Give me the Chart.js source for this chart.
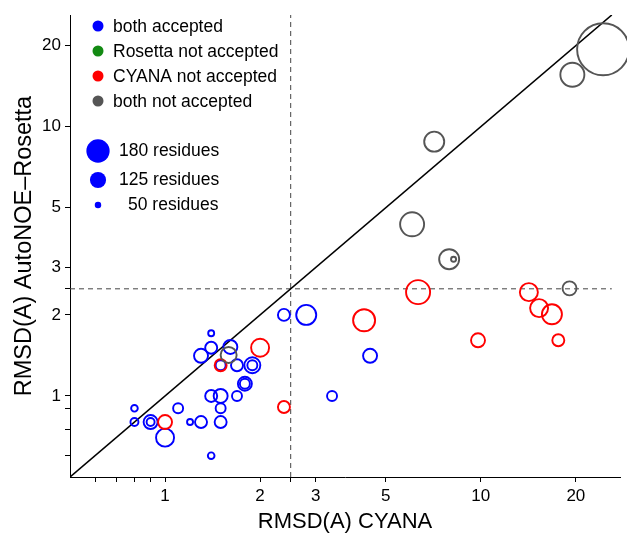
<!DOCTYPE html>
<html>
<head>
<meta charset="utf-8">
<script src="https://cdn.jsdelivr.net/npm/chart.js@4.4.1/dist/chart.umd.min.js"></script>
<style>
  html, body { margin: 0; padding: 0; background: #fff; }
  canvas { display: block; }
</style>
</head>
<body>
<canvas id="rmsdChart" width="627" height="535"></canvas>
<script>
// RMSD of CYANA vs AutoNOE-Rosetta structures, one entry per protein
const rmsdCyana = [
  1.40, 1.30, 1.40, 1.61, 1.50, 1.69, 1.89, 1.89, 1.79, 1.79,
  1.40, 1.50, 1.69, 0.80, 1.10, 1.50, 0.80, 0.90, 0.90, 1.20,
  1.30, 1.50, 1.00, 1.40, 2.38, 2.80, 4.46, 3.38,
  1.50, 2.00, 1.00, 2.38, 4.27, 6.33, 9.80, 14.2, 15.3, 16.8, 17.6,
  1.59, 6.06, 7.94, 8.20, 7.12, 19.1, 19.5, 24.4
];
const rmsdRosetta = [
  1.71, 1.41, 1.51, 1.52, 1.30, 1.30, 1.30, 1.30, 1.11, 1.11,
  1.00, 1.00, 1.00, 0.90, 0.90, 0.90, 0.80, 0.80, 0.80, 0.80,
  0.80, 0.80, 0.70, 0.60, 2.00, 2.00, 1.41, 1.00,
  1.30, 1.51, 0.80, 0.91, 1.91, 2.43, 1.61, 2.43, 2.12, 2.01, 1.61,
  1.42, 4.34, 3.22, 3.22, 8.80, 2.51, 15.6, 19.4
];
const residues = [
  45, 105, 90, 105, 75, 90, 120, 75, 105, 75,
  90, 105, 75, 50, 75, 75, 60, 105, 60, 45,
  90, 90, 135, 50, 90, 150, 105, 75,
  90, 135, 105, 90, 165, 180, 105, 135, 135, 150, 90,
  120, 180, 150, 38, 150, 105, 180, 390
];
// 0 = both accepted, 1 = Rosetta not accepted, 2 = CYANA not accepted, 3 = both not accepted
const status = [
  0, 0, 0, 0, 0, 0, 0, 0, 0, 0,
  0, 0, 0, 0, 0, 0, 0, 0, 0, 0,
  0, 0, 0, 0, 0, 0, 0, 0,
  2, 2, 2, 2, 2, 2, 2, 2, 2, 2, 2,
  3, 3, 3, 3, 3, 3, 3, 3
];

const statusLabels = ['both accepted', 'Rosetta not accepted', 'CYANA not accepted', 'both not accepted'];
const statusColors = ['#0000ff', '#138a13', '#ff0000', '#555555'];
const sizeLegend = [180, 125, 50];

const cutoff = 2.5;
const axisMin = 0.5;
const xAxisMax = 27.6;
const yAxisMax = 26;

const xTicks = [0.6, 0.7, 0.8, 0.9, 1, 2, 2.5, 3, 5, 10, 20];
const yTicks = [0.6, 0.75, 0.9, 1, 2, 2.5, 3, 5, 10, 20];
const tickLabels = [1, 2, 3, 5, 10, 20];

const FONT = '"Liberation Sans", Arial, Helvetica, sans-serif';
const radiusFor = n => n / 15;

// one scatter dataset per status group (drawn in reverse, so blue ends on top)
const groups = [3, 2, 1, 0].map(s => {
  const idx = status.map((v, i) => v === s ? i : -1).filter(i => i >= 0);
  return {
    type: 'scatter',
    label: statusLabels[s],
    data: idx.map(i => ({ x: rmsdCyana[i], y: rmsdRosetta[i], n: residues[i] })),
    pointRadius: ctx => radiusFor(ctx.raw ? ctx.raw.n : 0),
    pointHoverRadius: ctx => radiusFor(ctx.raw ? ctx.raw.n : 0),
    pointBackgroundColor: 'rgba(0,0,0,0)',
    pointBorderColor: statusColors[s],
    pointBorderWidth: 1.9,
    clip: false,
    order: 10 - s
  };
});

const guides = [
  {
    type: 'line',
    data: [{ x: axisMin, y: axisMin }, { x: yAxisMax, y: yAxisMax }],
    borderColor: '#000', borderWidth: 1.6, pointRadius: 0, order: 20
  },
  {
    type: 'line',
    data: [{ x: cutoff, y: axisMin }, { x: cutoff, y: yAxisMax }],
    borderColor: '#444', borderWidth: 1, borderDash: [5, 4], pointRadius: 0, order: 21
  },
  {
    type: 'line',
    data: [{ x: axisMin, y: cutoff }, { x: yAxisMax, y: cutoff }],
    borderColor: '#444', borderWidth: 1, borderDash: [5, 4], pointRadius: 0, order: 21
  }
];

const insideLegend = {
  id: 'insideLegend',
  afterDraw(chart) {
    const c = chart.ctx;
    c.save();
    c.textBaseline = 'middle';
    c.textAlign = 'left';
    c.font = '17.5px ' + FONT;
    statusLabels.forEach((lab, i) => {
      const y = 26 + i * 25;
      c.beginPath();
      c.arc(98, y, 5.5, 0, Math.PI * 2);
      c.fillStyle = statusColors[i];
      c.fill();
      c.fillStyle = '#000';
      c.fillText(lab, 113, y + 1);
    });
    const rows = [151, 180, 205];
    sizeLegend.forEach((n, i) => {
      c.beginPath();
      c.arc(98, rows[i], radiusFor(n) * 0.97, 0, Math.PI * 2);
      c.fillStyle = statusColors[0];
      c.fill();
      c.fillStyle = '#000';
      c.fillText(n + ' residues', n >= 100 ? 119 : 128, rows[i]);
    });
    c.restore();
  }
};

const axisCommon = (ticks, title, titleSize, size) => ({
  type: 'logarithmic',
  min: axisMin,
  border: { display: true, color: '#000', width: 1 },
  grid: { drawOnChartArea: false, drawTicks: true, tickLength: 5, tickColor: '#000' },
  afterBuildTicks: scale => { scale.ticks = ticks.map(v => ({ value: v })); },
  ticks: {
    autoSkip: false,
    maxRotation: 0,
    color: '#000',
    padding: 4,
    font: { family: FONT, size: 17 },
    callback: v => tickLabels.includes(v) ? String(v) : ''
  },
  title: {
    display: true,
    text: title,
    color: '#000',
    font: { family: FONT, size: titleSize },
    padding: size
  }
});

const xScale = axisCommon(xTicks, 'RMSD(A) CYANA', 22, { top: 0, bottom: 0 });
xScale.max = xAxisMax;
xScale.afterFit = s => { s.height = 58; };
const yScale = axisCommon(yTicks, 'RMSD(A) AutoNOE\u2013Rosetta', 23.5, { top: 10, bottom: 0 });
yScale.max = yAxisMax;
yScale.afterFit = s => { s.width = 70; };

new Chart(document.getElementById('rmsdChart').getContext('2d'), {
  data: { datasets: [...groups, ...guides] },
  options: {
    responsive: false,
    animation: false,
    devicePixelRatio: 1,
    layout: { autoPadding: false, padding: { top: 15, right: 7, left: 0, bottom: 0 } },
    scales: { x: xScale, y: yScale },
    plugins: { legend: { display: false }, tooltip: { enabled: false } }
  },
  plugins: [insideLegend]
});
</script>
</body>
</html>
